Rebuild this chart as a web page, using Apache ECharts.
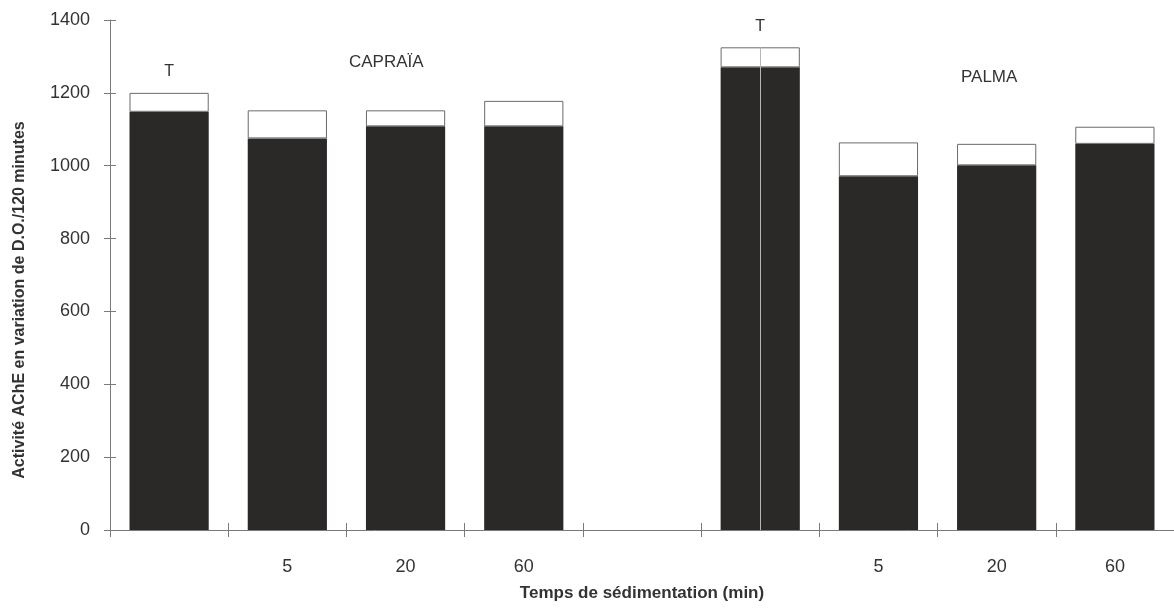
<!DOCTYPE html>
<html>
<head>
<meta charset="utf-8">
<script src="https://cdn.jsdelivr.net/npm/echarts@6/dist/echarts.min.js"></script>
<style>
  html, body { margin: 0; padding: 0; background: #ffffff; }
  #chart { width: 1174px; height: 611px; }
</style>
</head>
<body>
<div id="chart"></div>
<script>
// Sedimentation time categories (two sites, separated by an empty slot)
const categories = ['T0', '5', '20', '60', 'gap', 'T1', '5b', '20b', '60b'];
const tickLabels = ['', '5', '20', '60', '', '', '5', '20', '60'];
// Mean AChE activity (dark bars)
const meanActivity = [1148, 1075, 1108, 1108, null, 1270, 971, 1001, 1060];
// Standard deviation drawn as the open cap above each bar
const stdDev = [52, 77, 44, 70, null, 55, 93, 59, 47];
// Labels above the control bars
const topLabels = ['T', '', '', '', '', 'T', '', '', ''];
// Site names
const siteNames = ['CAPRAÏA', 'PALMA'];

const yTicks = { min: 0, max: 1400, interval: 200 };
const FONT = 'Liberation Sans, Arial, Helvetica, sans-serif';
const TEXT = '#333333';
const AXIS = '#7a7a7a';
const gridBox = { left: 110, right: -3, top: 20, bottom: 81, containLabel: false };

const chart = echarts.init(document.getElementById('chart'), null, { renderer: 'canvas' });

chart.setOption({
  backgroundColor: '#ffffff',
  animation: false,
  // second grid overlays the first and carries the inner half of the crossing ticks
  grid: [Object.assign({}, gridBox), Object.assign({}, gridBox)],
  xAxis: [
    {
      type: 'category',
      gridIndex: 0,
      data: categories,
      position: 'bottom',
      boundaryGap: true,
      axisLine: { lineStyle: { color: AXIS, width: 1 } },
      axisTick: { show: true, interval: 0, length: 7, lineStyle: { color: AXIS } },
      axisLabel: {
        interval: 0, margin: 28, fontFamily: FONT, fontSize: 18, color: TEXT,
        formatter: (v, i) => tickLabels[i]
      },
      name: 'Temps de sédimentation (min)',
      nameLocation: 'middle',
      nameGap: 55,
      nameTextStyle: { fontFamily: FONT, fontSize: 17, fontWeight: 'bold', color: TEXT }
    },
    {
      type: 'category',
      gridIndex: 1,
      data: categories,
      position: 'bottom',
      boundaryGap: true,
      axisLine: { show: false },
      axisTick: { show: true, inside: true, interval: 0, length: 7, lineStyle: { color: AXIS } },
      axisLabel: { show: false }
    }
  ],
  yAxis: [
    {
      type: 'value',
      gridIndex: 0,
      min: yTicks.min, max: yTicks.max, interval: yTicks.interval,
      position: 'left',
      axisLine: { show: true, lineStyle: { color: AXIS, width: 1 } },
      axisTick: { show: true, length: 6, lineStyle: { color: AXIS } },
      splitLine: { show: false },
      axisLabel: {
        margin: 20, fontFamily: FONT, fontSize: 18, color: TEXT,
        formatter: v => String(v)
      },
      name: 'Activité AChE en variation de D.O./120 minutes',
      nameLocation: 'middle',
      nameGap: 82,
      nameTextStyle: {
        fontFamily: FONT, fontSize: 16, fontWeight: 'bold', color: TEXT,
        padding: [0, 50, 0, 0]
      }
    },
    {
      type: 'value',
      gridIndex: 1,
      min: yTicks.min, max: yTicks.max, interval: yTicks.interval,
      position: 'left',
      axisLine: { show: false },
      axisTick: { show: true, inside: true, length: 6, lineStyle: { color: AXIS } },
      splitLine: { show: false },
      axisLabel: { show: false }
    }
  ],
  series: [
    {
      name: 'moyenne',
      type: 'bar',
      xAxisIndex: 0, yAxisIndex: 0,
      stack: 'activite',
      barCategoryGap: '33%',
      data: meanActivity,
      itemStyle: { color: '#2b2927' },
      markLine: {
        silent: true,
        symbol: 'none',
        label: { show: false },
        lineStyle: { color: '#b5b5b5', width: 1, type: 'solid' },
        data: [[
          { coord: [5, 0] },
          { coord: [5, meanActivity[5] + stdDev[5]] }
        ]]
      }
    },
    {
      name: 'écart-type',
      type: 'bar',
      xAxisIndex: 0, yAxisIndex: 0,
      stack: 'activite',
      barCategoryGap: '33%',
      data: stdDev,
      itemStyle: { color: '#ffffff', borderColor: '#6a6a6a', borderWidth: 1 },
      label: {
        show: true,
        position: 'top',
        distance: 13,
        fontFamily: FONT, fontSize: 16, color: TEXT,
        formatter: p => topLabels[p.dataIndex]
      }
    }
  ],
  graphic: [
    {
      type: 'text', left: 391 - 42, top: 54,
      style: { text: siteNames[0], font: '17px ' + FONT, fill: TEXT }
    },
    {
      type: 'text', left: 993 - 32, top: 69,
      style: { text: siteNames[1], font: '17px ' + FONT, fill: TEXT }
    }
  ]
});
</script>
</body>
</html>
